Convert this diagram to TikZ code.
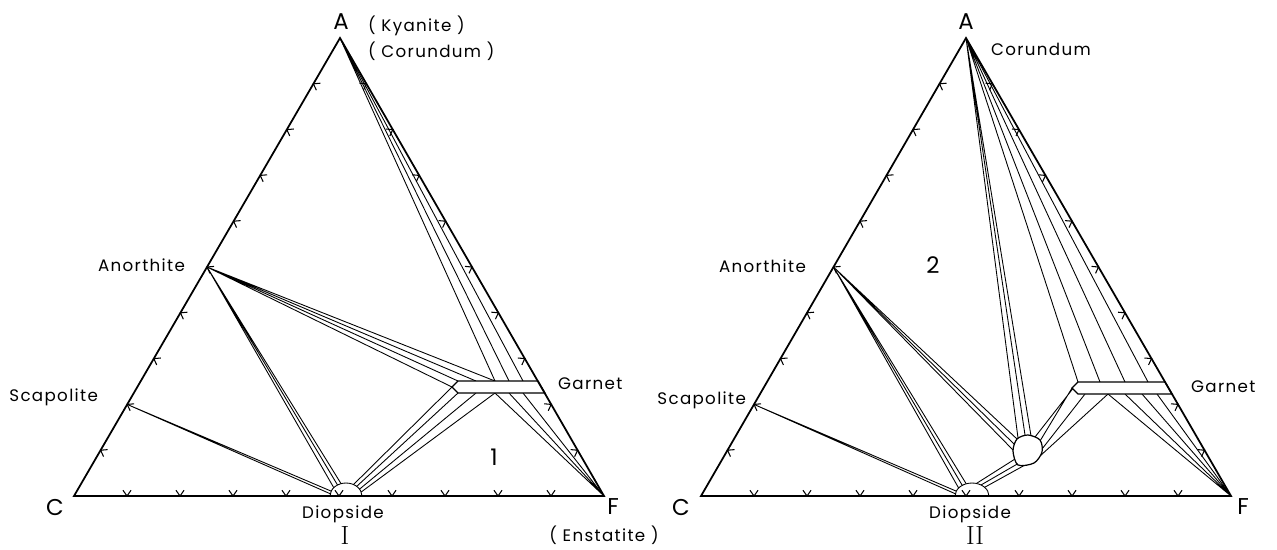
\documentclass[tikz,border=0pt]{standalone}
\usepackage{fontspec}
\newfontfamily\letterfont[LetterSpace=8]{Poppins}
\newfontfamily\apexfont{Poppins}
\usepackage{tikz}
\usetikzlibrary{calc}

% chevron ticks at every tenth of one side
\newcommand{\sideticks}[2]{%
  \foreach \i in {1,...,9}{
    \pgfmathsetmacro{\t}{\i/10}
    \coordinate (tk) at ($(#1)!\t!(#2)$);
    \draw[tickmark] ($(tk)!4pt!-55:(#2)$) -- (tk) -- ($(tk)!4pt!-125:(#2)$);
  }%
}

\begin{document}
\begin{tikzpicture}[
    x=0.02cm, y=-0.02cm,
    border/.style={line width=1pt, line join=miter},
    tieline/.style={line width=0.5pt},
    tickmark/.style={line width=0.6pt},
    barline/.style={line width=0.7pt, fill=white},
    phase/.style={font=\letterfont\fontsize{9.5}{11}\selectfont, inner sep=1pt},
    apex/.style={font=\apexfont\fontsize{13}{15}\selectfont, inner sep=1pt},
    fieldno/.style={font=\apexfont\fontsize{13}{15}\selectfont, inner sep=1pt},
    diagno/.style={font=\fontsize{15}{17}\selectfont, inner sep=0pt}
]
\useasboundingbox (0,0) rectangle (1277,549);

%% ---------------- Diagram I ----------------
\coordinate (C1) at (74,496);
\coordinate (A1) at (340,38);
\coordinate (F1) at (604,496);
\coordinate (S1) at ($(C1)!0.2!(A1)$);
\coordinate (N1) at ($(C1)!0.5!(A1)$);

% points on the diopside field
\foreach \a [count=\k] in {170,158,140,122,108,62,48,32,18}
    \coordinate (dl\k) at ({346+16*cos(\a)},{496-13*sin(\a)});
% points on the garnet bar
\coordinate (gl) at (452,387);
\foreach \x [count=\k] in {458,476,495,509,523}{
    \coordinate (glt\k) at (\x,381);
    \coordinate (glb\k) at (\x,393);
}

% tie lines
\draw[tieline] (S1) -- (dl1) (S1) -- (dl2);
\draw[tieline] (N1) -- (dl3) (N1) -- (dl4) (N1) -- (dl5);
\draw[tieline] (N1) -- (gl) (N1) -- (glt1) (N1) -- (glt2) (N1) -- (glt3);
\draw[tieline] (A1) -- (glt3) (A1) -- (glt4) (A1) -- (glt5);
\draw[tieline] (glb3) -- (F1) (glb4) -- (F1) (glb5) -- (F1);
\draw[tieline] (gl) -- (dl6) (glb1) -- (dl7) (glb2) -- (dl8) (glb3) -- (dl9);

% garnet bar and diopside field
\draw[barline] (gl) -- (glt1) -- (538,381) -- (545,393) -- (glb1) -- cycle;
\draw[tieline] (330,496) arc[start angle=180, end angle=0, x radius=0.32cm, y radius=0.26cm];

% triangle
\draw[border] (C1) -- (A1) -- (F1) -- cycle;
\sideticks{C1}{A1}
\sideticks{A1}{F1}
\sideticks{F1}{C1}

% labels
\node[apex] (a1) at (341,22) {A};
\node[apex] (c1) at (55,507) {C};
\node[apex] (f1) at (613,507) {F};
\node[phase, anchor=west] (ky) at (366,26) {( Kyanite )};
\node[phase, anchor=west] (co1) at (366,51) {( Corundum )};
\node[phase, anchor=east] (sc1) at (100,397) {Scapolite};
\node[phase, anchor=east] (an1) at (187,265) {Anorthite};
\node[phase, anchor=west] (ga1) at (556,384) {Garnet};
\node[phase] (di1) at (343,514) {Diopside};
\node[phase] (en) at (604,535) {( Enstatite )};
\node[fieldno] (one) at (494,457) {1};
\node[diagno] (d1) at (345,535) {I};

%% ---------------- Diagram II ----------------
\coordinate (C2) at (701,496);
\coordinate (A2) at (966,38);
\coordinate (F2) at (1231,496);
\coordinate (S2) at ($(C2)!0.2!(A2)$);
\coordinate (N2) at ($(C2)!0.5!(A2)$);

% points on the diopside field
\foreach \a [count=\k] in {170,158,142,125,110,75,58,42}
    \coordinate (dr\k) at ({972+17*cos(\a)},{496-13*sin(\a)});
% points on the garnet bar
\coordinate (gr) at (1072,388);
\foreach \x [count=\k] in {1078,1100,1125,1148}
    \coordinate (grt\k) at (\x,382);
\foreach \x [count=\k] in {1085,1108,1125,1142,1157}
    \coordinate (grb\k) at (\x,394);

% tie lines
\draw[tieline] (S2) -- (dr1) (S2) -- (dr2);
\draw[tieline] (N2) -- (dr3) (N2) -- (dr4) (N2) -- (dr5);
\draw[tieline] (N2) -- (1017,439) (N2) -- (1014,444) (N2) -- (1013,450);
\draw[tieline] (A2) -- (1018,438) (A2) -- (1025,435) (A2) -- (1031,436);
\draw[tieline] (1015,459) -- (dr6) (1019,463) -- (dr7) (1025,465) -- (dr8);
\draw[tieline] (1035,437) -- (grt1) (1040,441) -- (gr) (1042,449) -- (grb1) (1040,456) -- (grb2);
\draw[tieline] (A2) -- (grt1) (A2) -- (grt2) (A2) -- (grt3) (A2) -- (grt4);
\draw[tieline] (grb2) -- (F2) (grb3) -- (F2) (grb4) -- (F2) (grb5) -- (F2);

% garnet bar, two-phase field and diopside field
\draw[barline] (gr) -- (grt1) -- (1165,382) -- (1172,394) -- (1078,394) -- cycle;
\draw[barline] plot[smooth cycle] coordinates {(1013,451) (1017,439) (1028,435) (1040,440) (1042,452) (1034,463) (1018,465)};
\draw[tieline] (955,496) arc[start angle=180, end angle=0, x radius=0.34cm, y radius=0.26cm];

% triangle
\draw[border] (C2) -- (A2) -- (F2) -- cycle;
\sideticks{C2}{A2}
\sideticks{A2}{F2}
\sideticks{F2}{C2}

% labels
\node[apex] (a2) at (966,22) {A};
\node[apex] (c2) at (681,507) {C};
\node[apex] (f2) at (1243,507) {F};
\node[phase, anchor=west] (co2) at (989,49) {Corundum};
\node[phase, anchor=east] (sc2) at (748,400) {Scapolite};
\node[phase, anchor=east] (an2) at (808,266) {Anorthite};
\node[phase, anchor=west] (ga2) at (1189,387) {Garnet};
\node[phase] (di2) at (970,514) {Diopside};
\node[fieldno] (two) at (933,265) {2};
\node[diagno] (d2) at (975,535) {II};

\end{tikzpicture}
\end{document}
